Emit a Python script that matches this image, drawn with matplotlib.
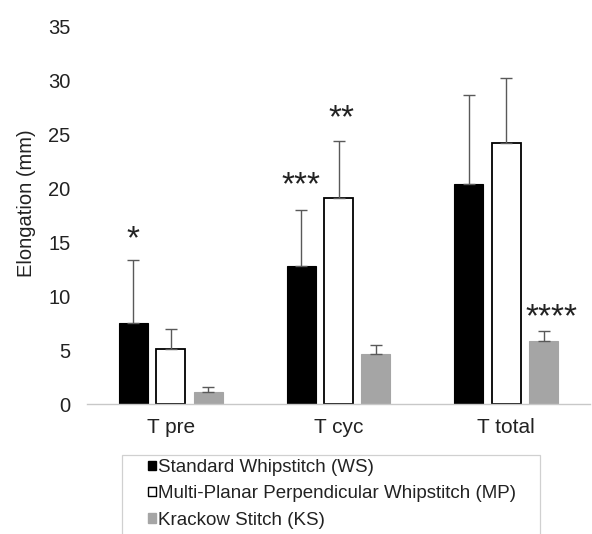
import matplotlib
matplotlib.use("Agg")
import matplotlib.pyplot as plt
import numpy as np
from matplotlib.patches import Patch, Rectangle

plt.rcParams['font.family'] = ['Liberation Sans', 'DejaVu Sans']

categories = ["T pre", "T cyc", "T total"]
series_names = ["Standard Whipstitch (WS)",
                "Multi-Planar Perpendicular Whipstitch (MP)",
                "Krackow Stitch (KS)"]
ws_mean = [7.5, 12.85, 20.45]
ws_sd = [5.9, 5.15, 8.2]
mp_mean = [5.1, 19.1, 24.2]
mp_sd = [1.9, 5.3, 6.1]
ks_mean = [1.1, 4.65, 5.85]
ks_sd = [0.45, 0.85, 0.95]

# significance markers: (category index, series index, label, y value)
sig_cat = [0, 1, 1, 2]
sig_series = [0, 0, 1, 2]
sig_label = ["*", "***", "**", "****"]
sig_y = [15.25, 20.3, 26.45, 8.05]

W, H = 592, 534
fig = plt.figure(figsize=(W/100, H/100), dpi=100)
ax = fig.add_axes([87/W, 1-404/H, (590-87)/W, (404-27)/H])

x = np.arange(len(categories))
width = 0.173
step = 0.223
means = [ws_mean, mp_mean, ks_mean]
sds = [ws_sd, mp_sd, ks_sd]
faces = ["#000000", "#ffffff", "#a5a5a5"]
edges = ["#000000", "#000000", "#a5a5a5"]
errc = "#595959"
for i in range(3):
    xi = x + (i - 1) * step
    ax.bar(xi, means[i], width, color=faces[i], edgecolor=edges[i],
           linewidth=1.3 if i == 1 else 0.8, zorder=2)
    ax.errorbar(xi, means[i], yerr=[np.zeros(3), sds[i]], fmt='none',
                ecolor=errc, elinewidth=1.0, capsize=4, capthick=1.0, zorder=3)

offs = [0.0, 0.0, 0.02, 0.05]
for c, s, lab, yv, o in zip(sig_cat, sig_series, sig_label, sig_y, offs):
    ax.text(x[c] + (s - 1) * step + o, yv, lab, ha='center', va='center',
            fontsize=24, color="#222222")

ax.set_xlim(-0.5, 2.5)
ax.set_ylim(0, 35)
ax.set_yticks(np.arange(0, 36, 5))
ax.set_xticks(x)
ax.set_xticklabels(categories, fontsize=15, color="#222222")
ax.tick_params(axis='y', labelsize=14.5, length=0, pad=12, labelcolor="#222222")
ax.tick_params(axis='x', length=0, pad=10)
for sp in ["top", "right", "left"]:
    ax.spines[sp].set_visible(False)
ax.spines["bottom"].set_color("#c8c8c8")
ax.spines["bottom"].set_linewidth(1.0)
fig.text(27/W, 1-203.5/H, "Elongation (mm)", rotation=90, ha='center',
         va='center', fontsize=14.5, color="#222222")

# legend frame
fig.patches.append(Rectangle((122/W, -0.05), (540-122)/W, (1-455/H)+0.05,
                             transform=fig.transFigure, facecolor='none',
                             edgecolor="#d0d0d0", linewidth=0.9))
handles = [Patch(facecolor=faces[i], edgecolor=edges[i], linewidth=1.0)
           for i in range(3)]
leg = fig.legend(handles, series_names, loc='upper left',
                 bbox_to_anchor=(148/W, 1-459/H), fontsize=13.5, frameon=False,
                 handlelength=0.4, handleheight=0.4, handletextpad=0.15,
                 labelspacing=0.5, borderpad=0.0, borderaxespad=0)
for t in leg.get_texts():
    t.set_color("#222222")

fig.savefig("out.png", dpi=100)
